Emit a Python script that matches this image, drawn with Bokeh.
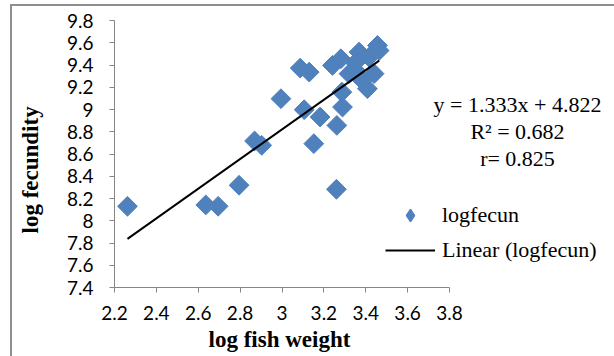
import math
from bokeh.plotting import figure
from bokeh.models import (FixedTicker, Label, Legend, LegendItem, LinearAxis,
                          Range1d, Title)
from bokeh.embed import file_html
from bokeh.resources import INLINE

# ---- data ----
log_fish_weight = [2.262, 2.636, 2.695, 2.795, 2.869, 2.903, 2.995, 3.087, 3.106,
                   3.130, 3.152, 3.182, 3.260, 3.262, 3.289, 3.286, 3.241, 3.281,
                   3.320, 3.352, 3.368, 3.416, 3.456, 3.464, 3.440, 3.408, 3.384, 3.350]
log_fecundity = [8.130, 8.142, 8.130, 8.319, 8.717, 8.678, 9.097, 9.372, 8.998,
                 9.336, 8.693, 8.932, 8.283, 8.857, 9.022, 9.156, 9.396, 9.456,
                 9.322, 9.351, 9.516, 9.471, 9.576, 9.530, 9.322, 9.187, 9.260, 9.420]
slope = 1.333
intercept = 4.822
r_squared = 0.682
r_value = 0.825

x_ticks = [2.2, 2.4, 2.6, 2.8, 3.0, 3.2, 3.4, 3.6, 3.8]
x_tick_labels = ["2.2", "2.4", "2.6", "2.8", "3", "3.2", "3.4", "3.6", "3.8"]
y_ticks = [7.4, 7.6, 7.8, 8.0, 8.2, 8.4, 8.6, 8.8, 9.0, 9.2, 9.4, 9.6, 9.8]
y_tick_labels = ["7.4", "7.6", "7.8", "8", "8.2", "8.4", "8.6", "8.8", "9",
                 "9.2", "9.4", "9.6", "9.8"]

SERIF = "Liberation Serif"
SANS = "Lato"
BLUE = "#4F81BD"
AXIS = "#868686"

# layout: axes span 335 x 267 px; the frame extends right/up so the
# equation and legend (inside the frame) are not clipped
AX_W, AX_H = 335, 267
FRAME_W, FRAME_H = 500, 281
x_lo, x_hi = x_ticks[0], x_ticks[-1]
y_lo, y_hi = y_ticks[0], y_ticks[-1]
x_end = x_lo + (x_hi - x_lo) * FRAME_W / AX_W
y_end = y_lo + (y_hi - y_lo) * FRAME_H / AX_H

p = figure(output_backend="svg", toolbar_location=None,
           x_range=Range1d(x_lo, x_end), y_range=Range1d(y_lo, y_end),
           frame_width=FRAME_W, frame_height=FRAME_H,
           min_border_left=100, min_border_top=0, min_border_right=0,
           min_border_bottom=69)
p.styles = {"border": "2px solid #8f8f8f", "border-bottom": "none",
            "margin-left": "10px", "margin-top": "4px"}
p.outline_line_color = None
p.grid.visible = False
p.background_fill_color = "white"
p.border_fill_color = "white"

for ax, ticks, labels, bounds in ((p.xaxis[0], x_ticks, x_tick_labels, (x_lo, x_hi)),
                                  (p.yaxis[0], y_ticks, y_tick_labels, (y_lo, y_hi))):
    ax.bounds = bounds
    ax.ticker = FixedTicker(ticks=ticks)
    ax.major_label_overrides = dict(zip(ticks, labels))
    ax.minor_tick_line_color = None
    ax.axis_line_color = AXIS
    ax.major_tick_line_color = AXIS
    ax.major_tick_in = 0
    ax.major_tick_out = 5
    ax.major_label_text_font = SANS
    ax.major_label_text_font_size = "19px"
    ax.major_label_text_color = "black"
p.xaxis.major_label_standoff = 13
p.yaxis.major_label_standoff = 16

title_style = dict(text_font=SERIF, text_font_size="23px", text_font_style="bold",
                   text_color="black")
p.add_layout(Title(text="log fish weight", align="left", offset=94, standoff=4,
                   **title_style), "below")

# invisible spacer between the y tick labels and the y title
spacer = LinearAxis(ticker=FixedTicker(ticks=[]), axis_line_color=None,
                    major_tick_line_color=None, minor_tick_line_color=None,
                    major_tick_in=0, major_tick_out=0, major_label_standoff=0,
                    axis_label=" ", axis_label_standoff=14,
                    axis_label_text_font_size="1px")
p.add_layout(spacer, "left")
p.add_layout(Title(text="log fecundity", align="left", offset=54, standoff=6,
                   **title_style), "left")

# legend swatch: an Excel-style diamond (legend glyphs are drawn unrotated);
# it sits hidden underneath the rotated-square markers
swatch = p.scatter(log_fish_weight, log_fecundity, marker="diamond", size=10,
                   fill_color=BLUE, line_color=BLUE, line_width=1.5)
pts = p.scatter(log_fish_weight, log_fecundity, marker="square", size=14,
                angle=math.pi / 4, fill_color=BLUE, line_color=BLUE)

x0, x1 = min(log_fish_weight), max(log_fish_weight)
trend = p.line([x0, x1], [slope * x0 + intercept, slope * x1 + intercept],
               line_color="black", line_width=2)

legend = Legend(items=[LegendItem(label="logfecun", renderers=[swatch]),
                       LegendItem(label="Linear (logfecun)", renderers=[trend])],
                location=(271, 22), glyph_width=50, glyph_height=30,
                label_height=30, label_standoff=7, spacing=5, padding=0,
                margin=0, border_line_color=None, background_fill_alpha=0,
                label_text_font=SERIF, label_text_font_size="22px",
                label_text_color="black")
p.add_layout(legend)

def add_text(x, y, text):
    p.add_layout(Label(x=x, y=y, x_units="screen", y_units="screen", text=text,
                       text_font=SERIF, text_font_size="22px",
                       text_align="center", text_baseline="middle",
                       text_color="black"))

add_text(403, 183, f"y = {slope:.3f}x + {intercept:.3f}")
add_text(403, 156, f"R\u00b2 = {r_squared:.3f}")
add_text(403, 129, f"r= {r_value:.3f}")

open("out.html", "w").write(file_html(p, INLINE))
